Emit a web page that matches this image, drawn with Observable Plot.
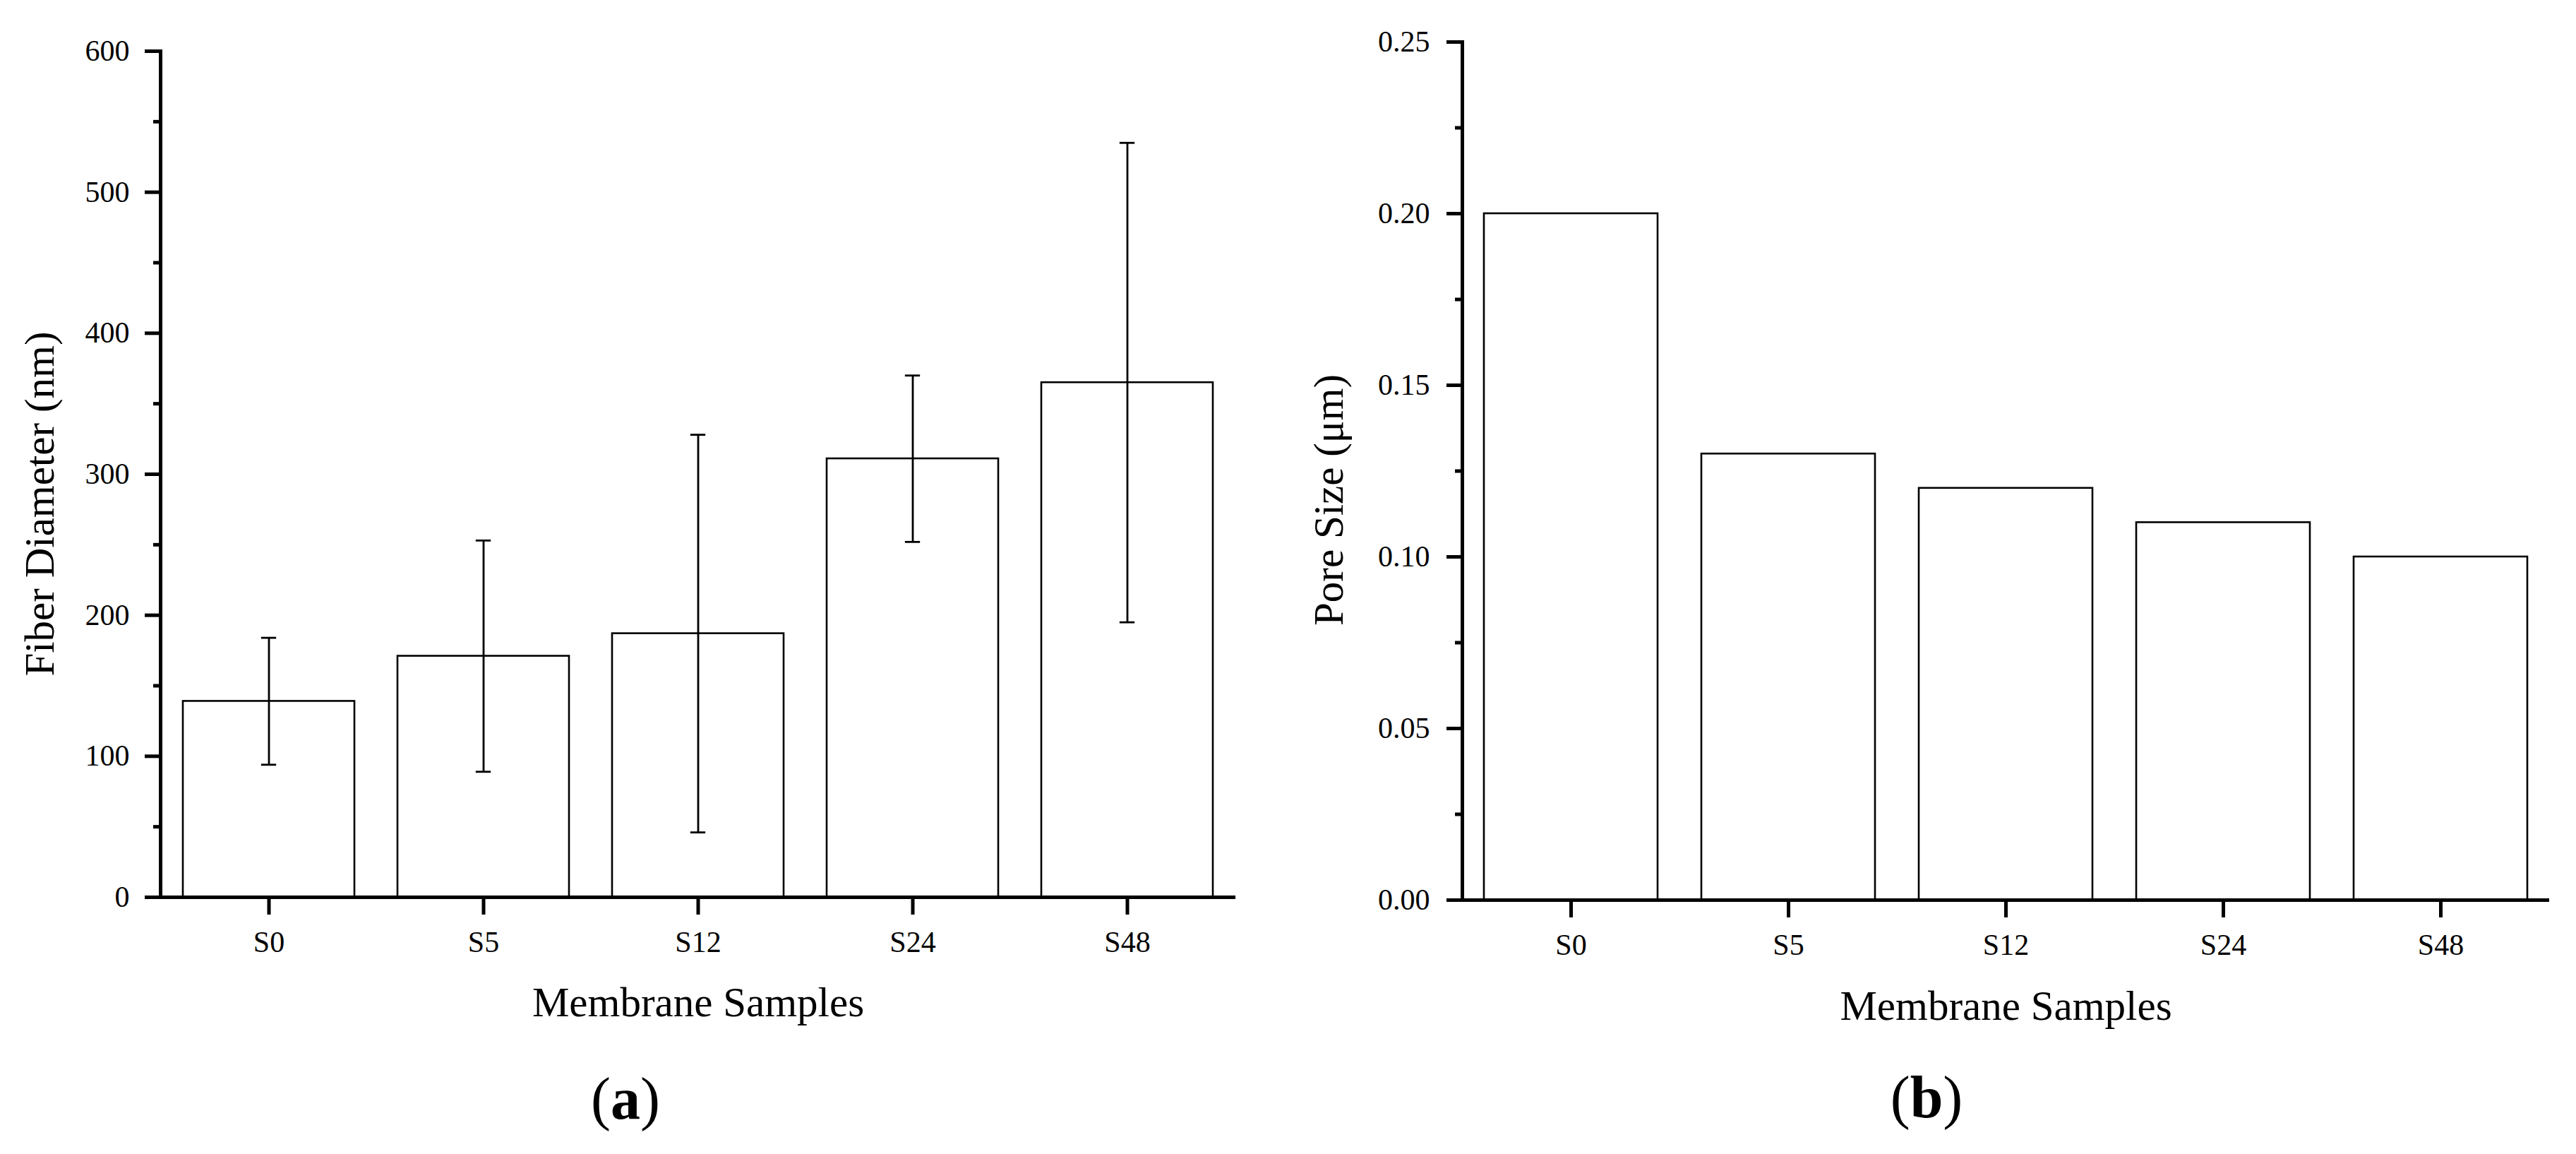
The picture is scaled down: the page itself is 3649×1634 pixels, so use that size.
<!DOCTYPE html>
<html>
<head>
<meta charset="utf-8">
<script src="https://cdn.jsdelivr.net/npm/d3@7"></script>
<script src="https://cdn.jsdelivr.net/npm/@observablehq/plot@0.6"></script>
<style>
  html, body { margin: 0; padding: 0; background: #fff; }
  #wrap { position: relative; width: 3649px; height: 1634px; background: #fff; overflow: hidden;
          font-family: "Liberation Serif", "Times New Roman", serif; color: #000; }
  .panel { position: absolute; top: 0; }
  .cap { position: absolute; font-size: 84px; line-height: 84px; white-space: nowrap;
         transform: translateX(-50%); font-family: "Liberation Serif", "Times New Roman", serif; }
</style>
</head>
<body>
<div id="wrap">
  <div id="panelA" class="panel" style="left:0px;"></div>
  <div id="panelB" class="panel" style="left:1800px;"></div>
  <div class="cap" style="left:886px; top:1514px;">(<b>a</b>)</div>
  <div class="cap" style="left:2729px; top:1512px;">(<b>b</b>)</div>
</div>
<script>
// ---- data ----
const samples = ["S0", "S5", "S12", "S24", "S48"];
const fiberMean = [139, 171, 187, 311, 365];   // nm
const fiberSD = [45, 82, 141, 59, 170];        // nm (symmetric error bars)
const poreSize = [0.20, 0.13, 0.12, 0.11, 0.10]; // µm

const fiberTicks = [0, 100, 200, 300, 400, 500, 600];
const fiberMinor = [50, 150, 250, 350, 450, 550];
const poreTicks = [0.00, 0.05, 0.10, 0.15, 0.20, 0.25];
const poreMinor = [0.025, 0.075, 0.125, 0.175, 0.225];

const xTitle = "Membrane Samples";
const yTitleA = "Fiber Diameter (nm)";
const yTitleB = "Pore Size (μm)";

// ---- tables built from the arrays ----
const fiberData = samples.map((s, i) => ({sample: s, mean: fiberMean[i], sd: fiberSD[i]}));
const poreData = samples.map((s, i) => ({sample: s, value: poreSize[i]}));

const FONT = "Liberation Serif, Times New Roman, serif";
const baseStyle = {fontFamily: FONT, fontSize: "42px", color: "#000", background: "#fff", overflow: "visible"};
const AXW = 5;        // axis line / tick stroke width
const TICK_FS = 42;
const TITLE_FS = 59;

// ---- panel (a) ----
{
  const W = 1800, H = 1634, mL = 227, mR = 50, mT = 72, mB = 364;
  const step = (W - mL - mR) / samples.length;
  const bw = step * 0.8;
  const capW = 22;
  const inset = (bw - capW) / 2;
  const chart = Plot.plot({
    width: W, height: H,
    marginLeft: mL, marginRight: mR, marginTop: mT, marginBottom: mB,
    style: baseStyle,
    x: {domain: samples, paddingInner: 0.2, paddingOuter: 0.1},
    y: {domain: [0, 600]},
    marks: [
      Plot.barY(fiberData, {x: "sample", y: "mean", fill: "white", stroke: "black", strokeWidth: 2.6}),
      Plot.ruleX(fiberData, {x: "sample", y1: d => d.mean - d.sd, y2: d => d.mean + d.sd, stroke: "black", strokeWidth: 2.8}),
      Plot.tickY(fiberData, {x: "sample", y: d => d.mean + d.sd, insetLeft: inset, insetRight: inset, stroke: "black", strokeWidth: 2.8}),
      Plot.tickY(fiberData, {x: "sample", y: d => d.mean - d.sd, insetLeft: inset, insetRight: inset, stroke: "black", strokeWidth: 2.8}),
      Plot.axisY(fiberMinor, {tickSize: 10, strokeWidth: AXW, tickFormat: () => "", label: null}),
      Plot.axisY(fiberTicks, {tickSize: 22, tickPadding: 22, strokeWidth: AXW, fontSize: TICK_FS, tickFormat: d => String(d), label: null}),
      Plot.axisX({tickSize: 25, tickPadding: 23, strokeWidth: AXW, fontSize: TICK_FS, label: null}),
      Plot.frame({anchor: "left", stroke: "black", strokeWidth: AXW}),
      Plot.ruleY([0], {stroke: "black", strokeWidth: AXW}),
      Plot.text([xTitle], {frameAnchor: "bottom", textAnchor: "middle", lineAnchor: "top", dy: 127, fontSize: TITLE_FS, fill: "black"}),
      Plot.text([yTitleA], {frameAnchor: "left", textAnchor: "middle", lineAnchor: "middle", rotate: -90, dx: -170, dy: 42, fontSize: TITLE_FS, fill: "black"})
    ]
  });
  document.getElementById("panelA").appendChild(chart);
}

// ---- panel (b) ----
{
  const W = 1849, H = 1634, mL = 271, mR = 38, mT = 59, mB = 360;
  const chart = Plot.plot({
    width: W, height: H,
    marginLeft: mL, marginRight: mR, marginTop: mT, marginBottom: mB,
    style: baseStyle,
    x: {domain: samples, paddingInner: 0.2, paddingOuter: 0.1},
    y: {domain: [0, 0.25]},
    marks: [
      Plot.barY(poreData, {x: "sample", y: "value", fill: "white", stroke: "black", strokeWidth: 2.6}),
      Plot.axisY(poreMinor, {tickSize: 10, strokeWidth: AXW, tickFormat: () => "", label: null}),
      Plot.axisY(poreTicks, {tickSize: 22, tickPadding: 24, strokeWidth: AXW, fontSize: TICK_FS, tickFormat: d3.format(".2f"), label: null}),
      Plot.axisX({tickSize: 25, tickPadding: 23, strokeWidth: AXW, fontSize: TICK_FS, label: null}),
      Plot.frame({anchor: "left", stroke: "black", strokeWidth: AXW}),
      Plot.ruleY([0], {stroke: "black", strokeWidth: AXW}),
      Plot.text([xTitle], {frameAnchor: "bottom", textAnchor: "middle", lineAnchor: "top", dy: 128, fontSize: TITLE_FS, fill: "black"}),
      Plot.text([yTitleB], {frameAnchor: "left", textAnchor: "middle", lineAnchor: "middle", rotate: -90, dx: -188, dy: 41, fontSize: TITLE_FS, fill: "black"})
    ]
  });
  document.getElementById("panelB").appendChild(chart);
}
</script>
</body>
</html>
